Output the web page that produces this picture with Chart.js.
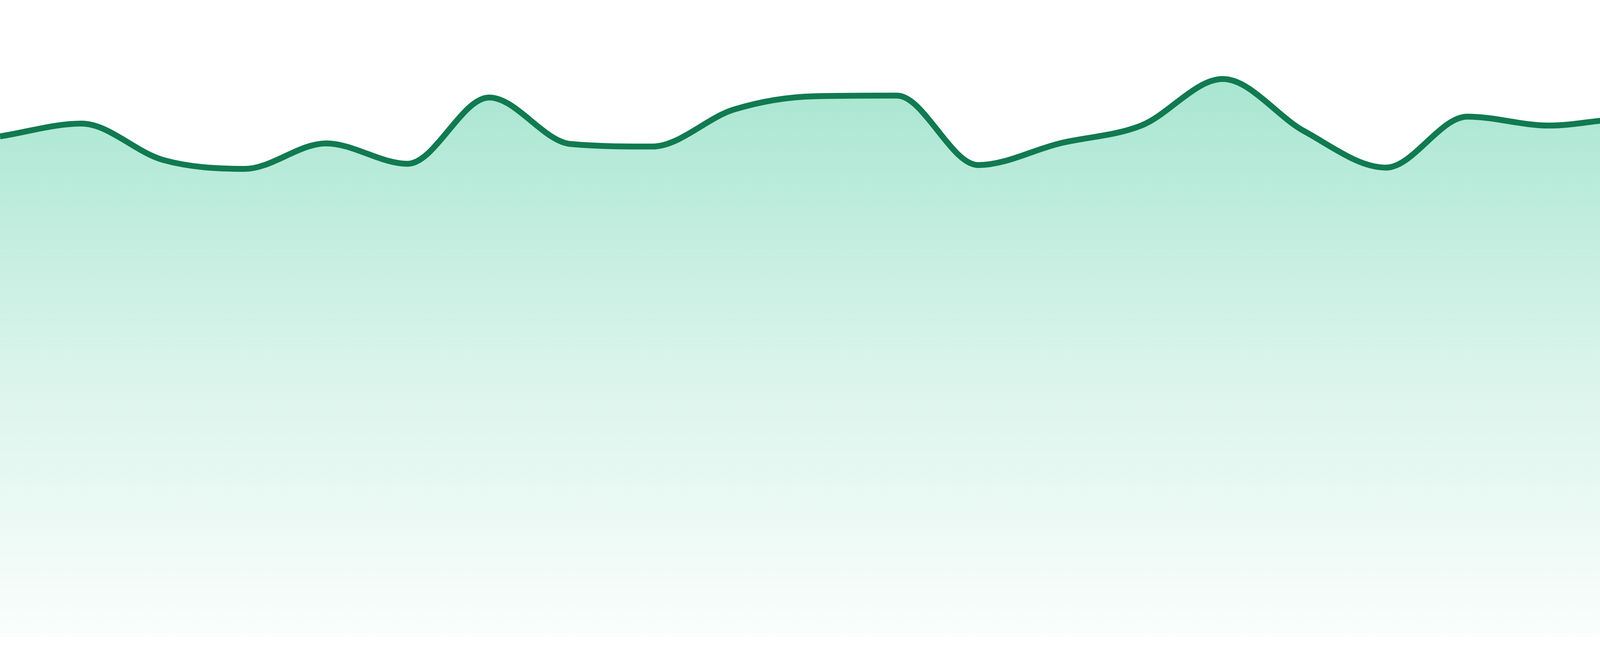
<!DOCTYPE html>
<html lang="en">
<head>
    <meta charset="UTF-8">
    <title>Area sparkline</title>
    <script src="https://cdn.jsdelivr.net/npm/chart.js@4.4.1/dist/chart.umd.min.js"></script>
    <style>
        html, body {
            margin: 0;
            padding: 0;
            background: #ffffff;
            overflow: hidden;
        }
        canvas {
            display: block;
        }
    </style>
</head>
<body>
    <canvas id="trendChart" width="4800" height="1680"></canvas>

    <script>
        // one value per period (scale 0 - 100)
        const periods = ['P01', 'P02', 'P03', 'P04', 'P05', 'P06', 'P07', 'P08',
                         'P09', 'P10', 'P11', 'P12', 'P13', 'P14', 'P15', 'P16',
                         'P17', 'P18', 'P19', 'P20', 'P21', 'P22', 'P23', 'P24'];
        const values = [78.6, 80.6, 74.9, 73.5, 77.5, 74.3, 84.7, 77.4,
                        77.0, 82.8, 84.9, 85.0, 74.1, 77.5, 80.3, 87.6,
                        79.4, 73.7, 81.7, 80.3, 81.4, 81.1, 76.0, 80.6];
        const yMin = 0;
        const yMax = 100;

        function areaGradient(context) {
            const chart = context.chart;
            const area = chart.chartArea;
            if (!area) {
                return 'rgba(16, 185, 129, 0.2)';
            }
            const g = chart.ctx.createLinearGradient(0, area.top, 0, area.bottom);
            g.addColorStop(0, 'rgba(16, 185, 129, 0.42)');
            g.addColorStop(0.55, 'rgba(16, 185, 129, 0.17)');
            g.addColorStop(1, 'rgba(16, 185, 129, 0.02)');
            return g;
        }

        const ctx = document.getElementById('trendChart').getContext('2d');
        const trendChart = new Chart(ctx, {
            type: 'line',
            data: {
                labels: periods,
                datasets: [{
                    data: values,
                    borderColor: '#117a50',
                    borderWidth: 15,
                    backgroundColor: areaGradient,
                    fill: 'start',
                    pointRadius: 0,
                    pointHoverRadius: 0,
                    cubicInterpolationMode: 'monotone'
                }]
            },
            options: {
                responsive: false,
                devicePixelRatio: 1,
                animation: false,
                layout: {
                    padding: { top: 0, right: 0, bottom: 48, left: 0 }
                },
                plugins: {
                    legend: { display: false },
                    tooltip: { enabled: false }
                },
                scales: {
                    x: { display: false, offset: false },
                    y: { display: false, min: yMin, max: yMax }
                }
            }
        });
    </script>
</body>
</html>
